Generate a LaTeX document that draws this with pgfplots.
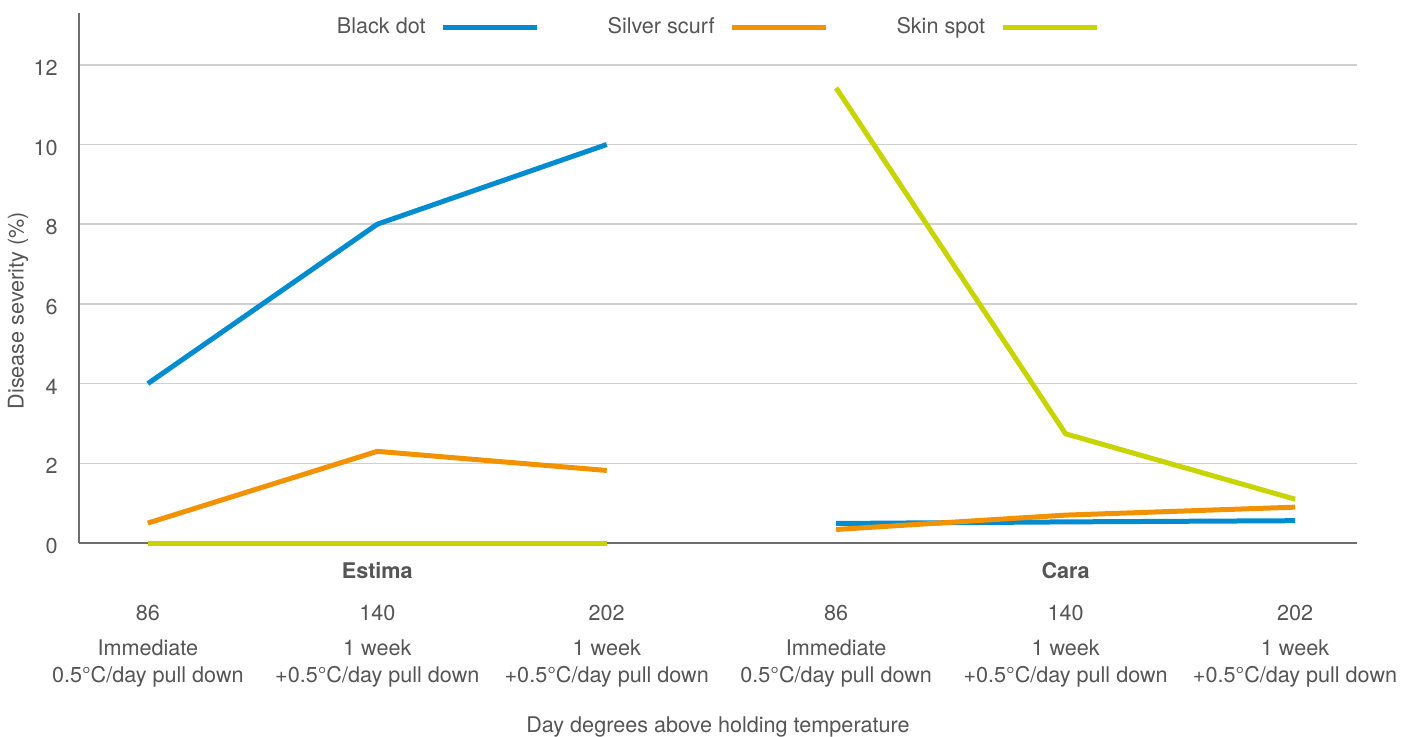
\documentclass[border=0pt]{standalone}
\usepackage{pgfplots}
\pgfplotsset{compat=1.18}
\usepackage{fontspec}
\setmainfont{TeX Gyre Heros}
\definecolor{cblue}{RGB}{0,140,206}
\definecolor{corange}{RGB}{243,146,0}
\definecolor{cyellow}{RGB}{200,212,0}
\definecolor{tgray}{RGB}{85,85,85}
\definecolor{agray}{RGB}{110,110,110}
\definecolor{ggray}{RGB}{208,208,208}
\begin{document}
\begin{tikzpicture}[font=\fontsize{10.8}{13}\selectfont, text=tgray]
\begin{axis}[
  scale only axis, width=639pt, height=265pt,
  xmin=-0.30, xmax=5.27, ymin=0, ymax=13.3,
  axis lines*=left,
  axis line style={color=agray, line width=0.75pt},
  ymajorgrids, major grid style={color=ggray, line width=0.75pt},
  ytick={0,2,...,12},
  xtick={0,...,5},
  xticklabels={86,140,202,86,140,202},
  major tick length=0pt,
  tick style={draw=none},
  /pgf/number format/assume math mode=true,
  xticklabel style={anchor=base, inner sep=0pt, yshift=-38.5pt, text=tgray},
  yticklabel style={anchor=east, inner sep=0pt, xshift=-10.5pt, yshift=-1.5pt, text=tgray},
  clip=false,
  legend plot pos=right,
  legend columns=3,
  legend style={draw=none, fill=none, at={(rel axis cs:0.5,1)}, anchor=center, yshift=-7pt,
    /tikz/every odd column/.append style={column sep=7.5pt},
    /tikz/every even column/.append style={column sep=34pt},
    nodes={inner sep=0pt, text=tgray, font=\fontsize{10.8}{13}\selectfont}},
  legend image code/.code={\draw[#1, line cap=butt] (0pt,0pt) -- (47pt,0pt);},
  every axis plot/.append style={line width=2.5pt, line join=miter},
]
% Estima
\addplot[cblue] coordinates {(0,4.0) (1,8.0) (2,10.0)};
\addlegendentry{Black dot}
\addplot[corange] coordinates {(0,0.50) (1,2.30) (2,1.82)};
\addlegendentry{Silver scurf}
\addplot[cyellow] coordinates {(0,0) (1,0) (2,0)};
\addlegendentry{Skin spot}
% Cara
\addplot[cblue, forget plot] coordinates {(3,0.49) (4,0.53) (5,0.56)};
\addplot[corange, forget plot] coordinates {(3,0.34) (4,0.70) (5,0.90)};
\addplot[cyellow, forget plot] coordinates {(3,11.42) (4,2.74) (5,1.10)};

% group names
\node[anchor=base, font=\fontsize{10.8}{13}\selectfont\bfseries] at (axis cs:1,0) [yshift=-17.5pt] {Estima};
\node[anchor=base, font=\fontsize{10.8}{13}\selectfont\bfseries] at (axis cs:4,0) [yshift=-17.5pt] {Cara};
% descriptions
\node[anchor=base] at (axis cs:0,0) [yshift=-56pt] {Immediate};
\node[anchor=base] at (axis cs:0,0) [yshift=-69.5pt] {0.5°C/day pull down};
\node[anchor=base] at (axis cs:1,0) [yshift=-56pt] {1 week};
\node[anchor=base] at (axis cs:1,0) [yshift=-69.5pt] {+0.5°C/day pull down};
\node[anchor=base] at (axis cs:2,0) [yshift=-56pt] {1 week};
\node[anchor=base] at (axis cs:2,0) [yshift=-69.5pt] {+0.5°C/day pull down};
\node[anchor=base] at (axis cs:3,0) [yshift=-56pt] {Immediate};
\node[anchor=base] at (axis cs:3,0) [yshift=-69.5pt] {0.5°C/day pull down};
\node[anchor=base] at (axis cs:4,0) [yshift=-56pt] {1 week};
\node[anchor=base] at (axis cs:4,0) [yshift=-69.5pt] {+0.5°C/day pull down};
\node[anchor=base] at (axis cs:5,0) [yshift=-56pt] {1 week};
\node[anchor=base] at (axis cs:5,0) [yshift=-69.5pt] {+0.5°C/day pull down};
% axis labels
\node[anchor=base] at (rel axis cs:0.5,0) [yshift=-94.5pt] {Day degrees above holding temperature};
\node[rotate=90, anchor=center] at ([xshift=-30.5pt]axis cs:-0.30,5.83) {Disease severity (\%)};
\end{axis}
\pgfresetboundingbox
\path[use as bounding box] (-39.5pt,-96.5pt) rectangle (661.5pt,271.5pt);
\end{tikzpicture}
\end{document}
